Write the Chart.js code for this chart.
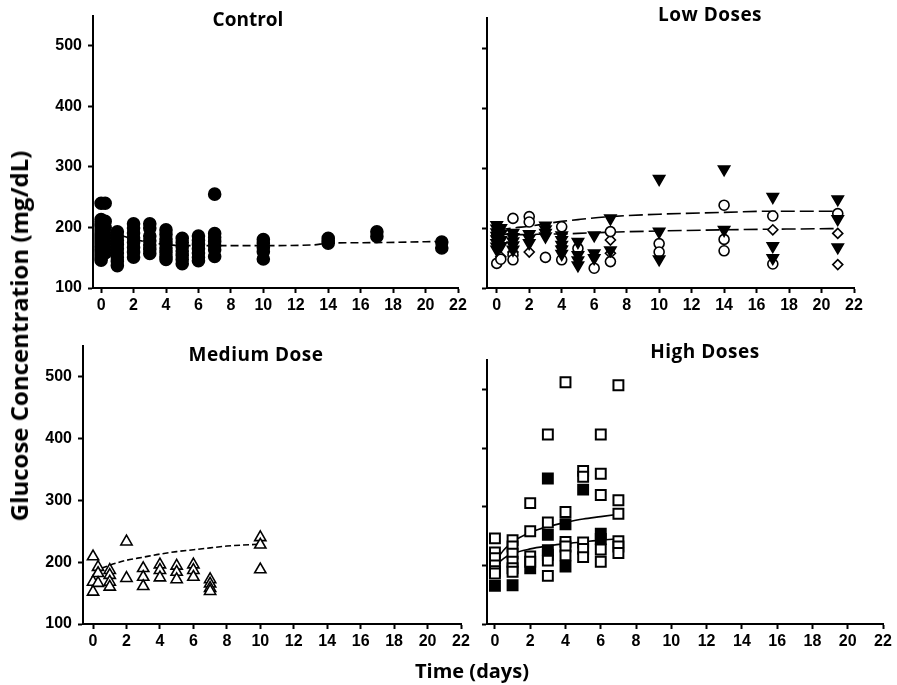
<!DOCTYPE html>
<html lang="en">
<head>
<meta charset="UTF-8" />
<title>Glucose concentration over time</title>
<style>
  body { margin: 0; background: #fff; }
  #wrap { position: relative; width: 897px; height: 685px; overflow: hidden; font-family: "Open Sans", sans-serif; }
  #wrap canvas { position: absolute; }
  .lbl { position: absolute; font-weight: bold; color: #000; line-height: 1; white-space: nowrap; transform: translateX(-50%); }
  #ytitle { position: absolute; left: 19px; top: 336px; font-size: 24px; font-weight: bold; line-height: 1; white-space: nowrap;
            transform: translate(-50%, -50%) rotate(-90deg); }
</style>
</head>
<body>
<div id="wrap">
  <canvas id="c-control"></canvas>
  <canvas id="c-low"></canvas>
  <canvas id="c-medium"></canvas>
  <canvas id="c-high"></canvas>
  <div class="lbl" style="left:248px; top:10px; font-size:19px">Control</div>
  <div class="lbl" style="left:710px; top:5px; font-size:19px; letter-spacing:0.5px">Low Doses</div>
  <div class="lbl" style="left:256px; top:345px; font-size:19px; letter-spacing:0.5px">Medium Dose</div>
  <div class="lbl" style="left:705px; top:342px; font-size:19px; letter-spacing:0.5px">High Doses</div>
  <div class="lbl" style="left:472px; top:661px; font-size:20px">Time (days)</div>
  <div id="ytitle">Glucose Concentration (mg/dL)</div>
</div>

<script src="https://cdn.jsdelivr.net/npm/chart.js@4.4.1/dist/chart.umd.min.js"></script>
<script>
  // axis ticks shared by all four panels
  const xTicks = [0, 2, 4, 6, 8, 10, 12, 14, 16, 18, 20, 22];
  const yTicks = [100, 200, 300, 400, 500];

  // measurements: [day, [glucose mg/dL, ...]]
  const controlPts = [
    [0, [240, 213, 207, 202, 196, 190, 185, 180, 175, 170, 165, 160, 155, 150, 146]],
    [0.25, [240, 210, 200, 188, 178, 168, 158]],
    [1, [193, 186, 179, 172, 165, 158, 151, 144, 137]],
    [2, [206, 199, 191, 183, 175, 167, 159, 151]],
    [3, [206, 199, 186, 178, 171, 164, 157]],
    [4, [196, 189, 181, 174, 166, 159, 152, 147]],
    [5, [182, 175, 168, 161, 154, 147, 140]],
    [6, [186, 179, 172, 165, 158, 151, 145]],
    [7, [255, 190, 184, 177, 170, 163, 152]],
    [10, [180, 174, 167, 160, 148]],
    [14, [182, 178, 174]],
    [17, [193, 185]],
    [21, [176, 166]]
  ];
  const controlFitDays = [0, 1, 2, 3, 4, 5, 7, 10, 13, 14, 17, 21];
  const controlFit = [200, 189, 181, 175, 172, 170, 170, 170, 171, 174, 175, 177];

  const lowTriPts = [
    [0, [205, 199, 193, 187, 181, 175, 169, 164]],
    [0.25, [200, 190, 180, 170]],
    [1, [192, 185, 178, 171, 164]],
    [2, [190, 183, 175]],
    [3, [204, 198, 192, 186]],
    [4, [188, 180, 172, 164, 157]],
    [5, [177, 155, 146, 138]],
    [6, [188, 158, 150]],
    [7, [216, 163]],
    [10, [282, 194, 148]],
    [14, [298, 197]],
    [17, [252, 170, 150]],
    [21, [248, 215, 168]]
  ];
  const lowCirclePts = [
    [0, [141, 190]],
    [0.25, [148]],
    [1, [216, 155, 147]],
    [2, [219, 210]],
    [3, [151]],
    [4, [202, 147]],
    [5, [166]],
    [6, [133]],
    [7, [194, 144]],
    [10, [174, 160]],
    [14, [238, 181, 162]],
    [17, [220, 140]],
    [21, [224]]
  ];
  const lowDiamondPts = [
    [0.25, [152]],
    [1, [160]],
    [2, [160]],
    [4, [170]],
    [7, [180, 158]],
    [17, [197]],
    [21, [191, 139]]
  ];
  const lowFitDays = [0, 1, 2, 3, 4, 5, 7, 10, 14, 17, 21];
  const lowFitUpper = [196, 200, 203, 207, 211, 214, 219, 223, 226, 228, 228];
  const lowFitLower = [190, 189, 189, 190, 190, 191, 193, 195, 197, 198, 199];

  const mediumPts = [
    [0, [209, 168, 152]],
    [0.3, [192, 182, 166]],
    [1, [187, 179, 168, 160]],
    [2, [233, 174]],
    [3, [190, 176, 161]],
    [4, [196, 187, 175]],
    [5, [194, 184, 172]],
    [6, [196, 187, 176]],
    [7, [172, 165, 158, 153]],
    [10, [240, 228, 188]]
  ];
  const mediumFitDays = [0.5, 1, 2, 3, 4, 5, 6, 7, 8, 10];
  const mediumFit = [190, 195, 203, 208, 213, 217, 220, 223, 226, 229];

  const highOpenPts = [
    [0, [246, 222, 212, 200, 190, 186]],
    [1, [243, 232, 220, 206, 195, 189]],
    [2, [306, 258, 215, 206]],
    [3, [423, 273, 208, 182]],
    [4, [512, 291, 240, 232, 217]],
    [5, [361, 351, 239, 228, 214]],
    [6, [423, 356, 320, 227, 206]],
    [7, [507, 311, 288, 241, 232, 221]]
  ];
  const highFilledPts = [
    [0, [165]],
    [1, [166]],
    [2, [195]],
    [3, [348, 252, 226, 218]],
    [4, [270, 198]],
    [5, [329]],
    [6, [254, 245]]
  ];
  const highFitDays = [0, 0.5, 1, 2, 3, 4, 5, 6, 7];
  const highFitUpper = [205, 226, 240, 256, 266, 273, 279, 283, 287];
  const highFitLower = [198, 212, 220, 228, 233, 237, 240, 243, 245];

  const tickFont = { family: 'Liberation Sans', weight: 'bold', size: 16 };

  function pts(groups) {
    const out = [];
    groups.forEach(([day, vals]) => vals.forEach(v => out.push({ x: day, y: v })));
    return out;
  }
  function line(days, vals) {
    return days.map((d, i) => ({ x: d, y: vals[i] }));
  }
  function markers(groups, style, radius, filled, rotation, bw) {
    return {
      data: pts(groups), pointStyle: style, pointRadius: radius, pointRotation: rotation || 0,
      backgroundColor: filled ? '#000' : '#fff', borderColor: '#000', borderWidth: bw || 1.6,
      pointHoverRadius: radius, clip: false
    };
  }
  function fit(days, vals, dash, width) {
    return {
      data: line(days, vals), showLine: true, pointRadius: 0, borderColor: '#000',
      borderWidth: width || 1.6, borderDash: dash, tension: 0.4, cubicInterpolationMode: 'monotone', clip: false
    };
  }

  // box = canvas [left, top, width, height], area = plot [left, top, right, bottom], page pixels
  function panel(id, box, area, xMin, showY, datasets) {
    const cv = document.getElementById(id);
    cv.style.left = box[0] + 'px';
    cv.style.top = box[1] + 'px';
    cv.width = box[2];
    cv.height = box[3];
    const axisGrid = { drawOnChartArea: false, drawTicks: true, tickLength: 5, tickColor: '#000', tickWidth: 2 };
    new Chart(cv, {
      type: 'scatter',
      data: { datasets },
      options: {
        responsive: false, animation: false, devicePixelRatio: 1,
        layout: { padding: { left: 0, top: area[1] - box[1], right: box[0] + box[2] - area[2], bottom: 0 } },
        plugins: { legend: { display: false }, tooltip: { enabled: false } },
        scales: {
          x: {
            type: 'linear', min: xMin, max: 22,
            afterBuildTicks: s => { s.ticks = xTicks.map(v => ({ value: v })); },
            afterFit: s => { s.height = box[1] + box[3] - area[3]; },
            border: { color: '#000', width: 2 },
            grid: axisGrid,
            ticks: { color: '#000', font: tickFont, padding: 3, maxRotation: 0, autoSkip: false }
          },
          y: {
            type: 'linear', min: 100, max: 550,
            afterBuildTicks: s => { s.ticks = yTicks.map(v => ({ value: v })); },
            afterFit: s => { s.width = area[0] - box[0]; },
            border: { color: '#000', width: 2 },
            grid: axisGrid,
            ticks: { color: '#000', font: tickFont, padding: 6, callback: v => showY ? v : '' }
          }
        }
      }
    });
  }

  panel('c-control', [30, 0, 455, 320], [93, 12, 458, 288], -0.5, true, [
    markers(controlPts, 'circle', 6, true),
    fit(controlFitDays, controlFit, [8, 4])
  ]);

  panel('c-low', [455, 0, 430, 320], [487, 18, 854, 288], -0.6, false, [
    markers(lowTriPts, 'triangle', 6.5, true, 180),
    markers(lowCirclePts, 'circle', 5, false),
    markers(lowDiamondPts, 'rectRot', 5, false),
    fit(lowFitDays, lowFitUpper, [14, 5]),
    fit(lowFitDays, lowFitLower, [14, 5])
  ]);

  panel('c-medium', [30, 330, 455, 330], [83, 344, 461, 624], -0.6, true, [
    markers(mediumPts, 'triangle', 6.5, false),
    fit(mediumFitDays, mediumFit, [6, 3])
  ]);

  panel('c-high', [455, 330, 442, 330], [487, 360, 883, 624], -0.45, false, [
    markers(highOpenPts, 'rect', 7, false, 0, 2),
    markers(highFilledPts, 'rect', 7, true, 0, 2),
    fit(highFitDays, highFitUpper, [], 1.6),
    fit(highFitDays, highFitLower, [], 1.6)
  ]);
</script>
</body>
</html>
